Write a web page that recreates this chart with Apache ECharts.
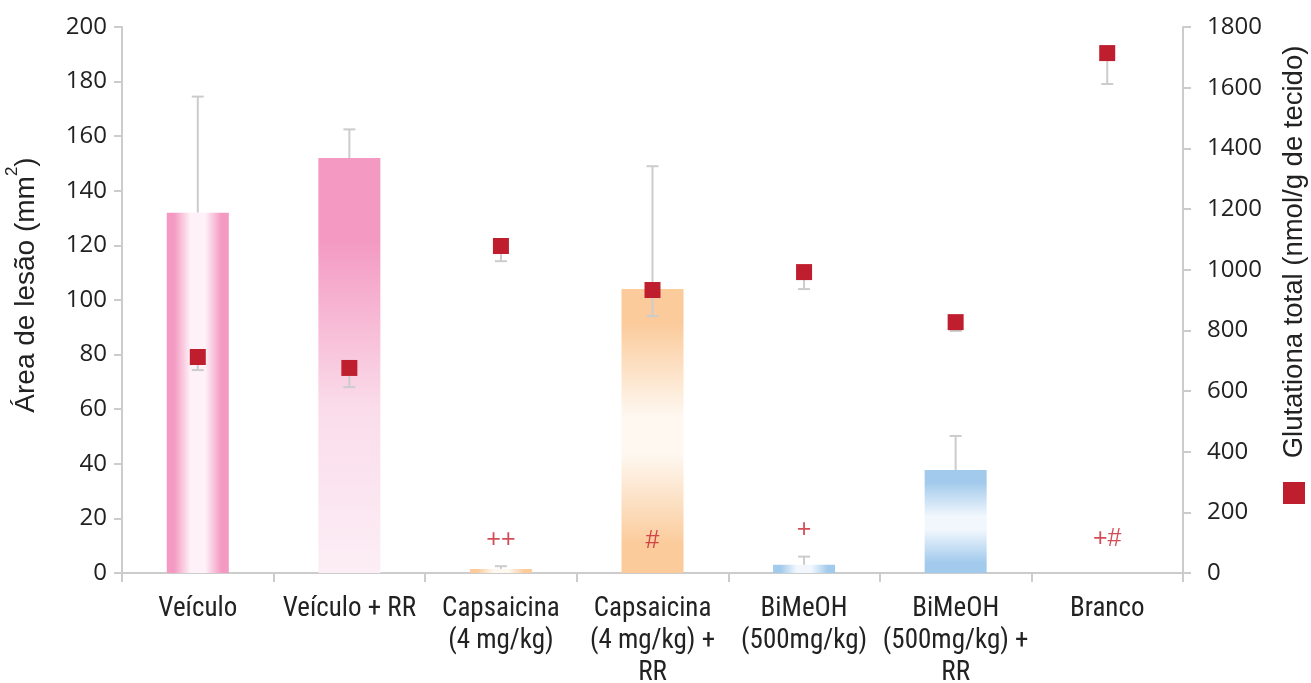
<!DOCTYPE html>
<html>
<head>
<meta charset="utf-8">
<script src="https://cdn.jsdelivr.net/npm/echarts@6/dist/echarts.min.js"></script>
<style>html,body{margin:0;padding:0;background:#fff;overflow:hidden;}#c{width:1311px;height:683px;}</style>
</head>
<body>
<div id="c"></div>
<script>
// ---- Data ----
const categories = ['Veículo', 'Veículo + RR', 'Capsaicina\n(4 mg/kg)', 'Capsaicina\n(4 mg/kg) +\nRR', 'BiMeOH\n(500mg/kg)', 'BiMeOH\n(500mg/kg) +\nRR', 'Branco'];
const lesionArea = [132, 152, 1.5, 104, 3, 37.7, 0];
const lesionErr = [42.5, 10.5, 1, 45, 3, 12.5, 0];
const glutathione = [712, 676, 1078, 933, 992, 827, 1714];
const glutathioneErr = [43, 63, 50, 86, 56, 29, 102];
const annotations = ['', '', '++', '#', '+', '', '+#'];
const annotationLevel = [0, 0, 12, 11.5, 15.7, 0, 12.5];
const leftTicks = { min: 0, max: 200, interval: 20 };
const rightTicks = { min: 0, max: 1800, interval: 200 };

// ---- Styles ----
const pink = '#F49AC2', pinkLight = '#FEF1F7';
const orange = '#FBCB9B', orangeLight = '#FEF8F1';
const blue = '#A2CAEC', blueLight = '#F1F7FD';
function hGrad(c, l) {
  return new echarts.graphic.LinearGradient(0, 0, 1, 0, [
    { offset: 0, color: c }, { offset: 0.12, color: c }, { offset: 0.38, color: l }, { offset: 0.5, color: l },
    { offset: 0.62, color: l }, { offset: 0.88, color: c }, { offset: 1, color: c }]);
}
function vGradMid(c, l) {
  return new echarts.graphic.LinearGradient(0, 0, 0, 1, [
    { offset: 0, color: c }, { offset: 0.12, color: c }, { offset: 0.45, color: l },
    { offset: 0.58, color: l }, { offset: 0.9, color: c }, { offset: 1, color: c }]);
}
const barColors = [
  hGrad(pink, pinkLight),
  new echarts.graphic.LinearGradient(0, 0, 0, 1, [
    { offset: 0, color: pink }, { offset: 0.2, color: pink }, { offset: 0.6, color: '#FADCEA' }, { offset: 1, color: '#FCEEF5' }]),
  hGrad(orange, orangeLight),
  vGradMid(orange, orangeLight),
  hGrad(blue, blueLight),
  vGradMid(blue, blueLight),
  hGrad(pink, pinkLight)
];

const errColor = '#CCCCCC';
const red = '#BE1E2D';
const numFont = "'Open Sans', 'DejaVu Sans', sans-serif";
const titleFont = "'Liberation Sans', Arial, sans-serif";
const catFont = "'Roboto Condensed', 'Liberation Sans Narrow', 'Liberation Sans', sans-serif";

function errRender(dir) {
  return function (params, api) {
    const x = api.value(0), v = api.value(1), e = api.value(2);
    if (!e) return null;
    const p0 = api.coord([x, v]);
    const p1 = api.coord([x, dir > 0 ? v + e : v - e]);
    const cap = 6;
    const style = { stroke: errColor, lineWidth: 2 };
    return {
      type: 'group',
      children: [
        { type: 'line', shape: { x1: p0[0], y1: p0[1], x2: p1[0], y2: p1[1] }, style },
        { type: 'line', shape: { x1: p1[0] - cap, y1: p1[1], x2: p1[0] + cap, y2: p1[1] }, style }
      ]
    };
  };
}

const chart = echarts.init(document.getElementById('c'), null, { renderer: 'canvas' });
chart.setOption({
  animation: false,
  backgroundColor: '#fff',
  grid: { left: 122, right: 128, top: 27, bottom: 110, containLabel: false, outerBoundsMode: 'none' },
  legend: {
    data: [{ name: 'Glutationa total', icon: 'rect' }],
    left: 1283, top: 482, itemWidth: 22, itemHeight: 22, itemGap: 0, padding: 0,
    formatter: function () { return ''; },
    textStyle: { fontSize: 1 }
  },
  xAxis: {
    type: 'category',
    data: categories,
    axisLine: { lineStyle: { color: '#CCCCCC', width: 2 } },
    axisTick: { show: true, length: 9, lineStyle: { color: '#CCCCCC', width: 2 } },
    axisLabel: { color: '#222', fontFamily: catFont, fontSize: 27, lineHeight: 32, margin: 20, interval: 0 }
  },
  yAxis: [
    {
      type: 'value', min: leftTicks.min, max: leftTicks.max, interval: leftTicks.interval,
      name: '{n|Área de lesão (mm}{sup|2}{n|)}', nameLocation: 'middle', nameGap: 82,
      nameTextStyle: {
        color: '#222', fontFamily: titleFont, fontSize: 28, padding: [0, 0, 0, 30],
        rich: {
          n: { fontSize: 28, fontFamily: titleFont, color: '#222', verticalAlign: 'bottom', lineHeight: 36 },
          sup: { fontSize: 17, fontFamily: titleFont, color: '#222', verticalAlign: 'top', lineHeight: 36 }
        }
      },
      axisLine: { show: true, lineStyle: { color: '#CCCCCC', width: 2 } },
      axisTick: { show: true, length: 8, lineStyle: { color: '#CCCCCC', width: 2 } },
      axisLabel: { color: '#222', fontFamily: numFont, fontSize: 24, margin: 15 },
      splitLine: { show: false }
    },
    {
      type: 'value', min: rightTicks.min, max: rightTicks.max, interval: rightTicks.interval,
      name: 'Glutationa total (nmol/g de tecido)', nameLocation: 'middle', nameGap: 97,
      nameTextStyle: { color: '#222', fontFamily: titleFont, fontSize: 27.5, padding: [0, 0, 0, 96] },
      axisLine: { show: true, lineStyle: { color: '#CCCCCC', width: 2 } },
      axisTick: { show: true, length: 8, lineStyle: { color: '#CCCCCC', width: 2 } },
      axisLabel: { color: '#222', fontFamily: numFont, fontSize: 24, margin: 24, formatter: v => String(v) },
      splitLine: { show: false }
    }
  ],
  series: [
    {
      name: 'Área de lesão', type: 'bar', yAxisIndex: 0, barWidth: 62,
      data: lesionArea.map((v, i) => ({ value: v, itemStyle: { color: barColors[i] } })),
      z: 2
    },
    {
      name: 'errBar', type: 'custom', yAxisIndex: 0, z: 3,
      renderItem: errRender(1),
      data: lesionArea.map((v, i) => [i, v, lesionErr[i]])
    },
    {
      name: 'errGlut', type: 'custom', yAxisIndex: 1, z: 4,
      renderItem: errRender(-1),
      data: glutathione.map((v, i) => [i, v, glutathioneErr[i]])
    },
    {
      name: 'Glutationa total', type: 'scatter', yAxisIndex: 1, symbol: 'rect', symbolSize: 16,
      itemStyle: { color: red, opacity: 1 }, z: 5,
      data: glutathione.map((v, i) => [i, v])
    },
    {
      name: 'annot', type: 'scatter', yAxisIndex: 0, symbolSize: 0, z: 6,
      data: annotations.map((t, i) => ({ value: [i, annotationLevel[i]], text: t })).filter(d => d.text),
      label: {
        show: true, position: 'inside', color: '#C8202F', fontFamily: titleFont, fontSize: 25,
        formatter: p => p.data.text
      }
    }
  ]
});
</script>
</body>
</html>
